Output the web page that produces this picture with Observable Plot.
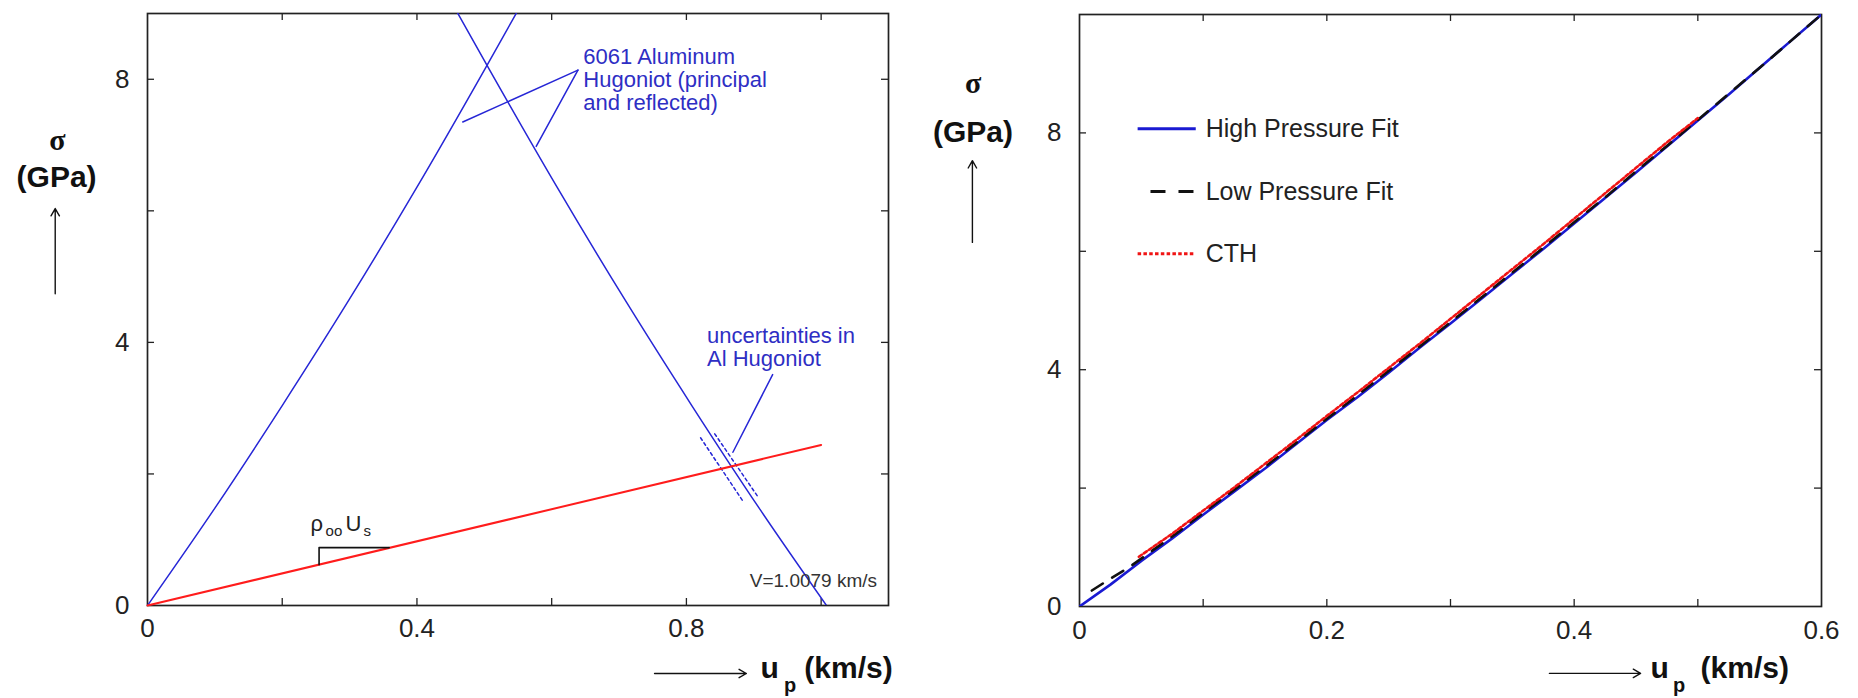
<!DOCTYPE html>
<html><head><meta charset="utf-8">
<script src="https://cdn.jsdelivr.net/npm/d3@7"></script>
<script src="https://cdn.jsdelivr.net/npm/@observablehq/plot@0.6"></script>
<style>
html,body{margin:0;padding:0;background:#fff;}
#wrap{display:flex;width:1858px;height:698px;overflow:hidden;}
#wrap svg{display:block;}
</style></head><body><div id="wrap"></div>
<script>
// ---------- LEFT PANEL DATA ----------
const leftXTicks = [0, 0.4, 0.8];
const leftXTickLabels = ["0", "0.4", "0.8"];
const leftYTicks = [0, 4, 8];
const leftYTickLabels = ["0", "4", "8"];
const leftXMinor = [0.2, 0.4, 0.6, 0.8, 1.0];
const leftYMinor = [2, 4, 6, 8];

const principalU = [0, 0.1, 0.2, 0.3, 0.4, 0.5, 0.55];
const principalS = [0, 1.48, 3.04, 4.66, 6.36, 8.14, 9.05];
const reflectedU = [1.008, 0.908, 0.808, 0.708, 0.608, 0.508, 0.458];
const reflectedS = [0, 1.48, 3.04, 4.66, 6.36, 8.14, 9.05];
const impedanceU = [0, 1.0];
const impedanceS = [0, 2.44];
const uncLowU = [0.821, 0.883];
const uncLowS = [2.55, 1.60];
const uncHighU = [0.842, 0.905];
const uncHighS = [2.61, 1.67];
const bracketU = [0.2547, 0.2547, 0.3587];
const bracketS = [0.62, 0.88, 0.88];
const alPointer1U = [0.639, 0.468];
const alPointer1S = [8.14, 7.35];
const alPointer2U = [0.639, 0.577];
const alPointer2S = [8.14, 6.98];
const uncPointerU = [0.928, 0.869];
const uncPointerS = [3.51, 2.33];

const alLabel = "6061 Aluminum\nHugoniot (principal\nand reflected)";
const uncLabel = "uncertainties in\nAl Hugoniot";
const velocityLabel = "V=1.0079 km/s";

// ---------- RIGHT PANEL DATA ----------
const rightXTicks = [0, 0.2, 0.4, 0.6];
const rightXTickLabels = ["0", "0.2", "0.4", "0.6"];
const rightYTicks = [0, 4, 8];
const rightYTickLabels = ["0", "4", "8"];
const rightXMinor = [0.1, 0.2, 0.3, 0.4, 0.5];
const rightYMinor = [2, 4, 6, 8];

const highU = [0, 0.025, 0.05, 0.075, 0.1, 0.125, 0.15, 0.175, 0.2, 0.225, 0.25, 0.275, 0.3, 0.325, 0.35, 0.375, 0.4, 0.425, 0.45, 0.475, 0.5, 0.525, 0.55, 0.575, 0.6];
const highS = [0, 0.37, 0.77, 1.15, 1.55, 1.94, 2.33, 2.74, 3.15, 3.54, 3.95, 4.37, 4.78, 5.2, 5.62, 6.04, 6.47, 6.9, 7.33, 7.77, 8.21, 8.65, 9.1, 9.55, 10.0];
const lowU = [0.01, 0.025, 0.04, 0.06, 0.08, 0.1, 0.125, 0.15, 0.175, 0.2, 0.225, 0.25, 0.275, 0.3, 0.325, 0.35, 0.375, 0.4, 0.425, 0.45, 0.475, 0.5, 0.525, 0.55, 0.575, 0.6];
const lowS = [0.27, 0.47, 0.66, 0.96, 1.26, 1.58, 1.97, 2.36, 2.76, 3.17, 3.57, 3.98, 4.39, 4.8, 5.22, 5.64, 6.06, 6.49, 6.91, 7.35, 7.78, 8.22, 8.66, 9.1, 9.55, 10.0];
const cthU = [0.048, 0.075, 0.1, 0.125, 0.15, 0.175, 0.2, 0.225, 0.25, 0.275, 0.3, 0.325, 0.35, 0.375, 0.4, 0.425, 0.45, 0.475, 0.5];
const cthS = [0.84, 1.23, 1.62, 2.01, 2.41, 2.81, 3.22, 3.62, 4.03, 4.44, 4.86, 5.28, 5.7, 6.12, 6.55, 6.98, 7.41, 7.84, 8.25];
const legendNames = ["High Pressure Fit", "Low Pressure Fit", "CTH"];

// ---------- helpers ----------
const FONT = "'Liberation Sans', Arial, Helvetica, sans-serif";
const zip = (us, ss) => us.map((u, i) => ({u, s: ss[i]}));
const TICK = 7;

function minorTicks(xMinor, yMinor, xd, yd, W, H) {
  const xl = TICK * (xd[1] - xd[0]) / W;
  const yl = TICK * (yd[1] - yd[0]) / H;
  const st = {stroke: "#222", strokeWidth: 1.3};
  return [
    Plot.ruleX(xMinor, {x: d => d, y1: yd[0], y2: yd[0] + yl, ...st}),
    Plot.ruleX(xMinor, {x: d => d, y1: yd[1] - yl, y2: yd[1], ...st}),
    Plot.ruleY(yMinor, {y: d => d, x1: xd[0], x2: xd[0] + xl, ...st}),
    Plot.ruleY(yMinor, {y: d => d, x1: xd[1] - xl, x2: xd[1], ...st})
  ];
}

function axisTitles(p) {
  const t = {fontFamily: FONT, fill: "#111", fontWeight: "bold", lineAnchor: "bottom"};
  return [
    Plot.text(["σ"], {x: p.sigX, y: p.sigY, text: d => d, ...t, fontFamily: "'Liberation Serif', 'Times New Roman', serif", fontSize: 30, textAnchor: "middle"}),
    Plot.text(["(GPa)"], {x: p.gpaX, y: p.gpaY, text: d => d, ...t, fontSize: 30, textAnchor: "middle"}),
    Plot.arrow([p.yArrow], {x1: "x1", y1: "y1", x2: "x2", y2: "y2", stroke: "#111", strokeWidth: 1.4, headLength: 9}),
    Plot.arrow([p.xArrow], {x1: "x1", y1: "y1", x2: "x2", y2: "y2", stroke: "#111", strokeWidth: 1.4, headLength: 9}),
    Plot.text(["u"], {x: p.uX, y: p.uY, text: d => d, ...t, fontSize: 30, textAnchor: "start"}),
    Plot.text(["p"], {x: p.pX, y: p.pY, text: d => d, ...t, fontSize: 20, textAnchor: "start"}),
    Plot.text(["(km/s)"], {x: p.kmX, y: p.kmY, text: d => d, ...t, fontSize: 30, textAnchor: "start"})
  ];
}

// ---------- LEFT PANEL ----------
{
  const W = 930, H = 698, mL = 147, mR = 42, mT = 13, mB = 93;
  const xd = [0, 1.1], yd = [0, 9];
  const blue = "#2626d6", txtBlue = "#2e2ec4";
  const annot = {fontFamily: FONT, fontSize: 22, fill: txtBlue, textAnchor: "start", lineAnchor: "bottom", lineHeight: 1.04};
  const chart = Plot.plot({
    width: W, height: H,
    marginLeft: mL, marginRight: mR, marginTop: mT, marginBottom: mB,
    x: {domain: xd}, y: {domain: yd},
    style: {fontFamily: FONT, fontSize: "26px", color: "#222", background: "#fff", overflow: "visible"},
    marks: [
      Plot.frame({stroke: "#222", strokeWidth: 1.7}),
      ...minorTicks(leftXMinor, leftYMinor, xd, yd, W - mL - mR, H - mT - mB),
      Plot.axisX(leftXTicks, {tickSize: 0, tickPadding: 13, label: null, fontSize: 26, tickFormat: d => leftXTickLabels[leftXTicks.indexOf(d)]}),
      Plot.axisY(leftYTicks, {tickSize: 0, tickPadding: 18, label: null, fontSize: 26, tickFormat: d => leftYTickLabels[leftYTicks.indexOf(d)]}),
      Plot.line(zip(principalU, principalS), {x: "u", y: "s", stroke: blue, strokeWidth: 1.5, curve: "monotone-x", clip: true}),
      Plot.line(zip(reflectedU, reflectedS), {x: "u", y: "s", stroke: blue, strokeWidth: 1.5, curve: "monotone-x", clip: true}),
      Plot.line(zip(uncLowU, uncLowS), {x: "u", y: "s", stroke: blue, strokeWidth: 1.5, strokeDasharray: "3,3"}),
      Plot.line(zip(uncHighU, uncHighS), {x: "u", y: "s", stroke: blue, strokeWidth: 1.5, strokeDasharray: "3,3"}),
      Plot.line(zip(impedanceU, impedanceS), {x: "u", y: "s", stroke: "#ff1c1c", strokeWidth: 2}),
      Plot.line(zip(bracketU, bracketS), {x: "u", y: "s", stroke: "#111", strokeWidth: 1.6}),
      Plot.line(zip(alPointer1U, alPointer1S), {x: "u", y: "s", stroke: blue, strokeWidth: 1.5}),
      Plot.line(zip(alPointer2U, alPointer2S), {x: "u", y: "s", stroke: blue, strokeWidth: 1.5}),
      Plot.line(zip(uncPointerU, uncPointerS), {x: "u", y: "s", stroke: blue, strokeWidth: 1.5}),
      Plot.text([alLabel], {x: 0.647, y: 7.53, text: d => d, ...annot}),
      Plot.text([uncLabel], {x: 0.8306, y: 3.64, text: d => d, ...annot}),
      Plot.text([velocityLabel], {x: 1.083, y: 0.278, text: d => d, fontFamily: FONT, fontSize: 19, fill: "#333", textAnchor: "end", lineAnchor: "bottom"}),
      Plot.text(["ρ"], {x: 0.242, y: 1.14, text: d => d, fontFamily: FONT, fontSize: 22, fill: "#222", textAnchor: "start", lineAnchor: "bottom"}),
      Plot.text(["oo"], {x: 0.2643, y: 1.064, text: d => d, fontFamily: FONT, fontSize: 15, fill: "#222", textAnchor: "start", lineAnchor: "bottom"}),
      Plot.text(["U"], {x: 0.294, y: 1.14, text: d => d, fontFamily: FONT, fontSize: 22, fill: "#222", textAnchor: "start", lineAnchor: "bottom"}),
      Plot.text(["s"], {x: 0.3207, y: 1.064, text: d => d, fontFamily: FONT, fontSize: 15, fill: "#222", textAnchor: "start", lineAnchor: "bottom"}),
      ...axisTitles({
        sigX: -0.1336, sigY: 6.93, gpaX: -0.135, gpaY: 6.355,
        yArrow: {x1: -0.137, y1: 4.74, x2: -0.137, y2: 6.035},
        xArrow: {x1: 0.7527, y1: -1.034, x2: 0.889, y2: -1.034},
        uX: 0.910, uY: -1.095, pX: 0.945, pY: -1.32, kmX: 0.975, kmY: -1.095
      })
    ]
  });
  document.getElementById("wrap").appendChild(chart);
}

// ---------- RIGHT PANEL ----------
{
  const W = 928, H = 698, mL = 149, mR = 37, mT = 14, mB = 92;
  const xd = [0, 0.6], yd = [0, 10];
  const blue = "#1a1ad2";
  const legend = [
    {name: legendNames[0], x1: 0.047, x2: 0.094, y: 8.07, stroke: blue, dash: null},
    {name: legendNames[1], x1: 0.0574, x2: 0.0922, y: 7.01, stroke: "#111", dash: "15,13"},
    {name: legendNames[2], x1: 0.047, x2: 0.0922, y: 5.96, stroke: "#f01414", dash: "3.5,2.3"}
  ];
  const chart = Plot.plot({
    width: W, height: H,
    marginLeft: mL, marginRight: mR, marginTop: mT, marginBottom: mB,
    x: {domain: xd}, y: {domain: yd},
    style: {fontFamily: FONT, fontSize: "26px", color: "#222", background: "#fff", overflow: "visible"},
    marks: [
      Plot.frame({stroke: "#222", strokeWidth: 1.7}),
      ...minorTicks(rightXMinor, rightYMinor, xd, yd, W - mL - mR, H - mT - mB),
      Plot.axisX(rightXTicks, {tickSize: 0, tickPadding: 14, label: null, fontSize: 26, tickFormat: d => rightXTickLabels[rightXTicks.indexOf(d)]}),
      Plot.axisY(rightYTicks, {tickSize: 0, tickPadding: 18, label: null, fontSize: 26, tickFormat: d => rightYTickLabels[rightYTicks.indexOf(d)]}),
      Plot.line(zip(highU, highS), {x: "u", y: "s", stroke: blue, strokeWidth: 2.6, curve: "linear", clip: true}),
      Plot.line(zip(lowU, lowS), {x: "u", y: "s", stroke: "#111", strokeWidth: 2.6, strokeDasharray: "13,11", clip: true}),
      Plot.line(zip(cthU, cthS), {x: "u", y: "s", stroke: "#f01414", strokeWidth: 2.6, strokeDasharray: "3.5,2.5", clip: true}),
      ...legend.map(l => Plot.link([l], {x1: "x1", x2: "x2", y1: "y", y2: "y", stroke: l.stroke, strokeWidth: 3, strokeDasharray: l.dash})),
      Plot.text(legend, {x: 0.102, y: "y", text: "name", fontFamily: FONT, fontSize: 25, fill: "#222", textAnchor: "start", lineAnchor: "middle"}),
      ...axisTitles({
        sigX: -0.086, sigY: 8.68, gpaX: -0.0862, gpaY: 7.84,
        yArrow: {x1: -0.0866, y1: 6.15, x2: -0.0866, y2: 7.53},
        xArrow: {x1: 0.380, y1: -1.13, x2: 0.4537, y2: -1.13},
        uX: 0.4617, uY: -1.20, pX: 0.480, pY: -1.45, kmX: 0.5022, kmY: -1.20
      })
    ]
  });
  document.getElementById("wrap").appendChild(chart);
}
</script>
</body></html>
